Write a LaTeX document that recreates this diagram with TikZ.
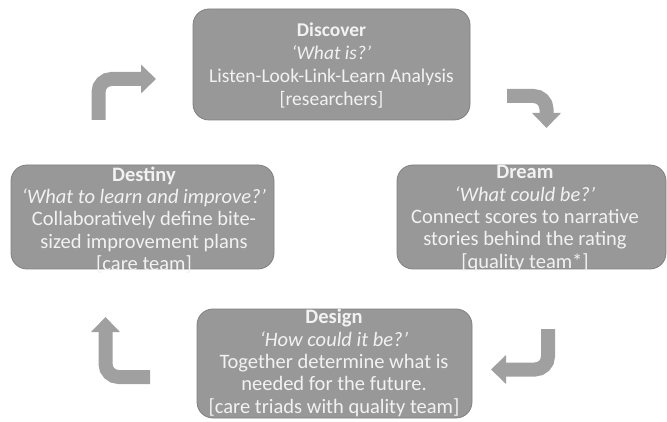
\documentclass[tikz,border=0pt]{standalone}
\usepackage{fontspec}
\setmainfont{Carlito}
\usetikzlibrary{arrows.meta}
\definecolor{boxfill}{RGB}{152,152,152}
\definecolor{boxline}{RGB}{128,128,128}
\definecolor{arrowfill}{RGB}{160,160,160}
\definecolor{txtcol}{RGB}{242,242,242}
\begin{document}
\begin{tikzpicture}[x=1pt,y=-1pt,
  box/.style={draw=boxline, line width=0.8pt, fill=boxfill, rounded corners=16pt, inner sep=0pt},
  boxtext/.style={text=txtcol, align=center, font=\fontsize{19.5}{23}\selectfont, inner sep=0pt},
  boxtextlg/.style={boxtext, font=\fontsize{20.5}{22.3}\selectfont},
  bent/.style={draw=arrowfill, line width=14pt, rounded corners=13pt, -{Triangle[length=15pt,width=28pt]}}
]
\useasboundingbox (0,0) rectangle (667,422);

% boxes
\node[box, minimum width=277pt, minimum height=111pt] (discover) at (331.5,64.5) {};
\node[box, minimum width=263pt, minimum height=104pt] (destiny) at (142.5,217) {};
\node[box, minimum width=269pt, minimum height=104pt] (dream) at (531.5,217) {};
\node[box, minimum width=275pt, minimum height=109pt] (design) at (334.5,363.5) {};

% texts
\node[boxtext] (discovertxt) at (331.5,65.5) {\textbf{Discover}\\\textit{‘What is?’}\\Listen-Look-Link-Learn Analysis\\{[researchers]}};
\node[boxtextlg] (destinytxt) at (144,220) {\textbf{Destiny}\\\textit{‘What to learn and improve?’}\\Collaboratively define bite-\\sized improvement plans\\{[care team]}};
\node[boxtextlg] (dreamtxt) at (525,218.5) {\textbf{Dream}\\\textit{‘What could be?’}\\Connect scores to narrative\\stories behind the rating\\{[quality team*]}};
\node[boxtextlg] (designtxt) at (334,363) {\textbf{Design}\\\textit{‘How could it be?’}\\Together determine what is\\needed for the future.\\{[care triads with quality team]}};

% bent arrows
\coordinate (a1s) at (98.5,120);
\coordinate (a1c) at (98.5,79);
\coordinate (a1e) at (156,79);
\draw[bent] (a1s) -- (a1c) -- (a1e);

\coordinate (a2s) at (507,96);
\coordinate (a2c) at (546.5,96);
\coordinate (a2e) at (546.5,128);
\draw[bent] (a2s) -- (a2c) -- (a2e);

\coordinate (a3s) at (548,329);
\coordinate (a3c) at (548,369.5);
\coordinate (a3e) at (491,369.5);
\draw[bent] (a3s) -- (a3c) -- (a3e);

\coordinate (a4s) at (150,377);
\coordinate (a4c) at (105.5,377);
\coordinate (a4e) at (105.5,317);
\draw[bent] (a4s) -- (a4c) -- (a4e);
\end{tikzpicture}
\end{document}
